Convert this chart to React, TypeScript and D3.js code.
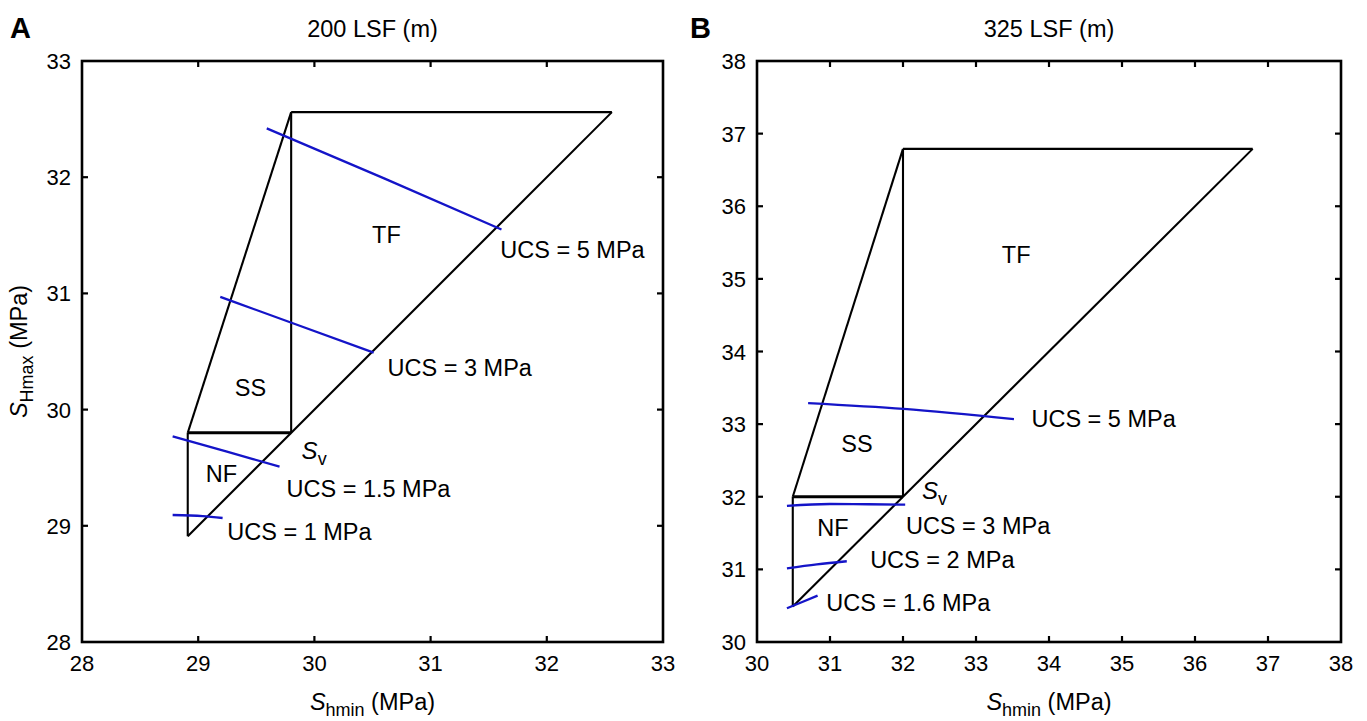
import React from "react";
import * as d3 from "d3";

// ---------- DATA ----------
const panelLetters = ["A", "B"];
const panelTitles = ["200 LSF (m)", "325 LSF (m)"];

const xDomainA: [number, number] = [28, 33];
const yDomainA: [number, number] = [28, 33];
const ticksA = [28, 29, 30, 31, 32, 33];

const xDomainB: [number, number] = [30, 38];
const yDomainB: [number, number] = [30, 38];
const ticksB = [30, 31, 32, 33, 34, 35, 36, 37, 38];

// frictional-limit polygon: lower corner, Sv, upper limit (MPa)
const limitMinA = 28.91;
const svA = 29.8;
const limitMaxA = 32.56;
const limitMinB = 30.49;
const svB = 32.0;
const limitMaxB = 36.79;

// regime labels
const regimeNames = ["TF", "SS", "NF"];
const regimeShminA = [30.62, 29.45, 29.2];
const regimeSHmaxA = [31.51, 30.19, 29.45];
const regimeShminB = [33.55, 31.37, 31.04];
const regimeSHmaxB = [35.34, 32.74, 31.57];

// UCS contours
const ucsLabelsA = ["UCS = 5 MPa", "UCS = 3 MPa", "UCS = 1.5 MPa", "UCS = 1 MPa"];
const ucsShminA = [
  [29.59, 30.6, 31.61],
  [29.19, 29.85, 30.51],
  [28.78, 29.24, 29.7],
  [28.78, 29.04, 29.21],
];
const ucsSHmaxA = [
  [32.42, 31.99, 31.55],
  [30.97, 30.73, 30.49],
  [29.77, 29.64, 29.51],
  [29.093, 29.084, 29.067],
];
const ucsLabelsB = ["UCS = 5 MPa", "UCS = 3 MPa", "UCS = 2 MPa", "UCS = 1.6 MPa"];
const ucsShminB = [
  [30.7, 32.01, 33.52],
  [30.41, 31.0, 31.52, 32.03],
  [30.41, 30.82, 31.23],
  [30.41, 30.62, 30.83],
];
const ucsSHmaxB = [
  [33.29, 33.21, 33.07],
  [31.873, 31.9, 31.897, 31.892],
  [31.015, 31.07, 31.112],
  [30.464, 30.55, 30.638],
];

// ---------- LAYOUT ----------
const W = 1367;
const H = 721;
const panels = [
  {
    box: { left: 82, right: 663, top: 61, bottom: 642 },
    xDomain: xDomainA, yDomain: yDomainA, ticks: ticksA,
    limitMin: limitMinA, sv: svA, limitMax: limitMaxA,
    regX: regimeShminA, regY: regimeSHmaxA,
    ucsLabels: ucsLabelsA, ucsX: ucsShminA, ucsY: ucsSHmaxA,
    // label anchor (left, vertical middle) in data units
    ucsLabelPos: [[31.6, 31.38], [30.63, 30.36], [29.76, 29.32], [29.25, 28.95]],
    svLabel: [29.89, 29.65],
    letterX: 10, yLabel: true,
  },
  {
    box: { left: 757, right: 1341, top: 61, bottom: 642 },
    xDomain: xDomainB, yDomain: yDomainB, ticks: ticksB,
    limitMin: limitMinB, sv: svB, limitMax: limitMaxB,
    regX: regimeShminB, regY: regimeSHmaxB,
    ucsLabels: ucsLabelsB, ucsX: ucsShminB, ucsY: ucsSHmaxB,
    ucsLabelPos: [[33.76, 33.08], [32.04, 31.6], [31.55, 31.14], [30.95, 30.54]],
    svLabel: [32.26, 32.09],
    letterX: 690, yLabel: false,
  },
];

const FONT = "'Liberation Sans', Arial, Helvetica, sans-serif";
const BLUE = "#1414c8";
const LAB = 23.5;
const SUB = 18;

function Panel({ p, idx }: { p: any; idx: number }) {
  const { box } = p;
  const x = d3.scaleLinear().domain(p.xDomain).range([box.left, box.right]);
  const y = d3.scaleLinear().domain(p.yDomain).range([box.bottom, box.top]);
  const line = d3
    .line<[number, number]>()
    .x((d) => x(d[0]))
    .y((d) => y(d[1]))
    .curve(d3.curveMonotoneX);
  const seg = d3
    .line<[number, number]>()
    .x((d) => x(d[0]))
    .y((d) => y(d[1]));

  const mn = p.limitMin, sv = p.sv, mx = p.limitMax;
  const polySegs: [number, number][][] = [
    [[mn, mn], [mx, mx]],
    [[sv, mx], [mx, mx]],
    [[sv, sv], [sv, mx]],
    [[mn, sv], [sv, mx]],
    [[mn, mn], [mn, sv]],
  ];
  const tl = 6;
  const cx = (box.left + box.right) / 2;

  return (
    <g fontFamily={FONT}>
      {/* titles */}
      <text x={p.letterX} y={38} fontSize={29} fontWeight="bold">{panelLetters[idx]}</text>
      <text x={cx} y={37} fontSize={LAB} textAnchor="middle">{panelTitles[idx]}</text>

      {/* ticks */}
      {p.ticks.map((t: number) => (
        <g key={"x" + t}>
          {t !== p.xDomain[0] && t !== p.xDomain[1] && (
            <>
              <line x1={x(t)} x2={x(t)} y1={box.bottom} y2={box.bottom - tl} stroke="#000" strokeWidth={2.2} />
              <line x1={x(t)} x2={x(t)} y1={box.top} y2={box.top + tl} stroke="#000" strokeWidth={2.2} />
            </>
          )}
          <text x={x(t)} y={box.bottom + 29} fontSize={22} textAnchor="middle">{t}</text>
        </g>
      ))}
      {p.ticks.map((t: number) => (
        <g key={"y" + t}>
          {t !== p.yDomain[0] && t !== p.yDomain[1] && (
            <>
              <line x1={box.left} x2={box.left + tl} y1={y(t)} y2={y(t)} stroke="#000" strokeWidth={2.2} />
              <line x1={box.right} x2={box.right - tl} y1={y(t)} y2={y(t)} stroke="#000" strokeWidth={2.2} />
            </>
          )}
          <text x={box.left - 11} y={y(t) + 8} fontSize={22} textAnchor="end">{t}</text>
        </g>
      ))}

      {/* frame */}
      <rect x={box.left} y={box.top} width={box.right - box.left} height={box.bottom - box.top}
        fill="none" stroke="#000" strokeWidth={2.6} />

      {/* polygon */}
      {polySegs.map((s, i) => (
        <path key={"p" + i} d={seg(s) || ""} fill="none" stroke="#000" strokeWidth={2.1} />
      ))}
      <path d={seg([[mn, sv], [sv, sv]]) || ""} fill="none" stroke="#000" strokeWidth={3} />

      {/* UCS contours */}
      {p.ucsX.map((xs: number[], i: number) => {
        const pts = xs.map((v, j) => [v, p.ucsY[i][j]] as [number, number]);
        return <path key={"u" + i} d={line(pts) || ""} fill="none" stroke={BLUE} strokeWidth={2.3} />;
      })}
      {p.ucsLabels.map((lab: string, i: number) => (
        <text key={"ul" + i} x={x(p.ucsLabelPos[i][0])} y={y(p.ucsLabelPos[i][1]) + 8.5} fontSize={LAB}>{lab}</text>
      ))}

      {/* regime labels */}
      {regimeNames.map((r, i) => (
        <text key={"r" + i} x={x(p.regX[i])} y={y(p.regY[i]) + 8.5} fontSize={LAB} textAnchor="middle">{r}</text>
      ))}

      {/* Sv */}
      <text x={x(p.svLabel[0])} y={y(p.svLabel[1]) + 9} fontSize={24}>
        <tspan fontStyle="italic">S</tspan>
        <tspan fontSize={SUB} dy={6}>v</tspan>
      </text>

      {/* x label */}
      <text x={cx} y={710} fontSize={LAB} textAnchor="middle">
        <tspan fontStyle="italic">S</tspan>
        <tspan fontSize={SUB} dy={6}>hmin</tspan>
        <tspan dy={-6}> (MPa)</tspan>
      </text>

      {p.yLabel && (
        <text transform={`translate(27, ${(box.top + box.bottom) / 2}) rotate(-90)`} fontSize={LAB} textAnchor="middle">
          <tspan fontStyle="italic">S</tspan>
          <tspan fontSize={SUB} dy={6}>Hmax</tspan>
          <tspan dy={-6}> (MPa)</tspan>
        </text>
      )}
    </g>
  );
}

export default function App() {
  return (
    <svg width={W} height={H} style={{ position: "absolute", left: 0, top: 0, background: "#fff" }}>
      <rect width={W} height={H} fill="#fff" />
      {panels.map((p, i) => (
        <Panel key={i} p={p} idx={i} />
      ))}
    </svg>
  );
}
